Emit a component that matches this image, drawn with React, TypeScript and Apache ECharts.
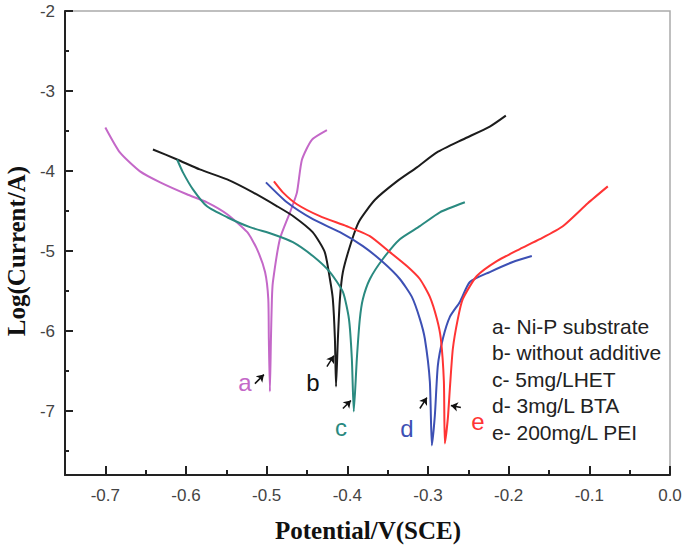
import React, { useEffect, useRef } from "react";
import * as echarts from "echarts";

// Curve data: [potential V(SCE), log(current/A)]
const curveA: number[][] = [
  [-0.7, -3.457], [-0.682, -3.768], [-0.657, -4.005], [-0.632, -4.142], [-0.599, -4.291],
  [-0.574, -4.391], [-0.549, -4.54], [-0.524, -4.765], [-0.512, -4.976], [-0.502, -5.263],
  [-0.498, -5.599], [-0.4973, -6.1], [-0.496, -6.757], [-0.4947, -6.1], [-0.4935, -5.6],
  [-0.4923, -5.39], [-0.4836, -4.85], [-0.4712, -4.52], [-0.4625, -4.27], [-0.4563, -3.86],
  [-0.444, -3.61], [-0.4253, -3.49],
];
const curveB: number[][] = [
  [-0.641, -3.731], [-0.611, -3.856], [-0.583, -3.98], [-0.549, -4.105], [-0.517, -4.267],
  [-0.487, -4.441], [-0.467, -4.565], [-0.443, -4.765], [-0.428, -5.014], [-0.4216, -5.35],
  [-0.418, -5.599], [-0.4154, -6.097], [-0.414, -6.695], [-0.4117, -6.097], [-0.4092, -5.599],
  [-0.4055, -5.263], [-0.3955, -4.9], [-0.3855, -4.63], [-0.3657, -4.36], [-0.3386, -4.13],
  [-0.3138, -3.955], [-0.289, -3.768], [-0.2568, -3.606], [-0.2234, -3.445], [-0.2035, -3.308],
];
const curveC: number[][] = [
  [-0.611, -3.856], [-0.6038, -4.017], [-0.5914, -4.229], [-0.574, -4.441], [-0.549, -4.578],
  [-0.5208, -4.702], [-0.4923, -4.79], [-0.4675, -4.889], [-0.4427, -5.063], [-0.4216, -5.263],
  [-0.4055, -5.512], [-0.398, -5.85], [-0.3944, -6.346], [-0.392, -7.006], [-0.3882, -6.346],
  [-0.3845, -5.85], [-0.3807, -5.599], [-0.372, -5.35], [-0.356, -5.1], [-0.3349, -4.852],
  [-0.3101, -4.69], [-0.2853, -4.516], [-0.2543, -4.391],
];
const curveD: number[][] = [
  [-0.5009, -4.142], [-0.4749, -4.391], [-0.4427, -4.603], [-0.4092, -4.765], [-0.3807, -4.939],
  [-0.356, -5.138], [-0.3349, -5.35], [-0.32, -5.574], [-0.3101, -5.848], [-0.3039, -6.097],
  [-0.2977, -6.633], [-0.2952, -7.43], [-0.2915, -7.056], [-0.2878, -6.433], [-0.2816, -6.097],
  [-0.2729, -5.823], [-0.2605, -5.636], [-0.2481, -5.387], [-0.2234, -5.263], [-0.1949, -5.138],
  [-0.1713, -5.063],
];
const curveE: number[][] = [
  [-0.491, -4.13], [-0.4799, -4.267], [-0.4625, -4.416], [-0.434, -4.565], [-0.4006, -4.69],
  [-0.3721, -4.814], [-0.3473, -5.014], [-0.3262, -5.188], [-0.3101, -5.35], [-0.2977, -5.574],
  [-0.289, -5.848], [-0.2841, -6.097], [-0.2803, -6.633], [-0.2791, -7.405], [-0.2754, -7.093],
  [-0.2729, -6.72], [-0.2692, -6.222], [-0.263, -5.848], [-0.2568, -5.599], [-0.2395, -5.313],
  [-0.2147, -5.126], [-0.1862, -4.976], [-0.1614, -4.852], [-0.1329, -4.69], [-0.1019, -4.403],
  [-0.0771, -4.192],
];

const curveNames = ["a", "b", "c", "d", "e"];
const curveColors = ["#c468c8", "#1c1c1c", "#2a8a80", "#3d50b4", "#ff3434"];
const legendLines = [
  "a- Ni-P substrate",
  "b- without additive",
  "c- 5mg/LHET",
  "d- 3mg/L BTA",
  "e- 200mg/L PEI",
];
// annotation arrows: [tail, head] in data coordinates
const arrowCoords: number[][][] = [
  [[-0.5146, -6.658], [-0.5034, -6.545]],
  [[-0.4253, -6.446], [-0.4167, -6.309]],
  [[-0.4055, -6.969], [-0.3956, -6.869]],
  [[-0.3101, -6.969], [-0.3014, -6.832]],
  [[-0.2593, -6.956], [-0.2717, -6.932]],
];
// curve letter label positions (pixels)
const letterPos: number[][] = [
  [245, 382], [313, 382], [341, 427], [407, 428], [478, 421],
];

export default function App() {
  const ref = useRef<HTMLDivElement>(null);
  useEffect(() => {
    document.body.style.margin = "0";
    if (!ref.current) return;
    const chart = echarts.init(ref.current, undefined, { renderer: "svg" });
    const curves = [curveA, curveB, curveC, curveD, curveE];
    const graphics: any[] = [];
    legendLines.forEach((t, i) => {
      graphics.push({
        type: "text",
        x: 492,
        y: 326 + i * 26.5,
        style: {
          text: t,
          font: "21px 'Liberation Sans', Arial, sans-serif",
          fill: "#222",
          textAlign: "left",
          align: "left",
          textVerticalAlign: "middle",
          verticalAlign: "middle",
        },
      });
    });
    curveNames.forEach((n, i) => {
      graphics.push({
        type: "text",
        x: letterPos[i][0],
        y: letterPos[i][1],
        style: {
          text: n,
          font: "24px 'Liberation Sans', Arial, sans-serif",
          fill: curveColors[i] === "#1c1c1c" ? "#111" : curveColors[i],
          textAlign: "center",
          align: "center",
          textVerticalAlign: "middle",
          verticalAlign: "middle",
        },
      });
    });
    graphics.push({
      type: "text",
      x: 16,
      y: 251,
      rotation: Math.PI / 2,
      style: {
        text: "Log(Current/A)",
        font: "bold 25px 'Liberation Serif', 'Times New Roman', serif",
        fill: "#111",
        textAlign: "center",
        align: "center",
        textVerticalAlign: "middle",
        verticalAlign: "middle",
      },
    });
    graphics.push({
      type: "text",
      x: 368,
      y: 530,
      style: {
        text: "Potential/V(SCE)",
        font: "bold 25px 'Liberation Serif', 'Times New Roman', serif",
        fill: "#111",
        textAlign: "center",
        align: "center",
        textVerticalAlign: "middle",
        verticalAlign: "middle",
      },
    });

    const series: any[] = curves.map((d, i) => ({
      type: "line",
      name: curveNames[i],
      data: d,
      showSymbol: false,
      symbol: "none",
      smooth: 0.2,
      lineStyle: { color: curveColors[i], width: 2 },
      z: 3,
    }));
    series.push({
      type: "lines",
      coordinateSystem: "cartesian2d",
      symbol: ["none", "arrow"],
      symbolSize: 7,
      lineStyle: { color: "#111", width: 1.5, opacity: 1 },
      data: arrowCoords.map((c) => ({ coords: c })),
      z: 4,
    });

    chart.setOption({
      animation: false,
      grid: {
        left: 65,
        right: 15,
        top: 11,
        bottom: 73,
        show: true,
        borderColor: "#aaa",
        borderWidth: 1.5,
        backgroundColor: "transparent",
      },
      xAxis: {
        type: "value",
        min: -0.75,
        max: 0,
        splitNumber: 7,
        axisLine: { show: true, onZero: false, lineStyle: { color: "#222", width: 2 } },
        axisTick: { show: true, inside: true, length: 9, lineStyle: { color: "#222", width: 2 } },
        minorTick: { show: true, splitNumber: 2, length: 5, lineStyle: { color: "#222", width: 2 } },
        splitLine: { show: false },
        axisLabel: {
          showMinLabel: false,
          margin: 12,
          fontSize: 17,
          color: "#444",
          fontFamily: "'Liberation Sans', Arial, sans-serif",
          formatter: (v: number) => v.toFixed(1),
        },
      },
      yAxis: {
        type: "value",
        min: -7.8,
        max: -2,
        axisLine: { show: true, onZero: false, lineStyle: { color: "#222", width: 2 } },
        axisTick: { show: true, inside: true, length: 8, lineStyle: { color: "#222", width: 2 } },
        minorTick: { show: true, splitNumber: 2, length: 4, lineStyle: { color: "#222", width: 2 } },
        splitLine: { show: false },
        axisLabel: {
          showMinLabel: false,
          margin: 10,
          fontSize: 17,
          color: "#444",
          fontFamily: "'Liberation Sans', Arial, sans-serif",
          formatter: (v: number) => String(v),
        },
      },
      series,
      graphic: graphics,
    });
    return () => chart.dispose();
  }, []);
  return <div ref={ref} style={{ width: 685, height: 548 }} />;
}
